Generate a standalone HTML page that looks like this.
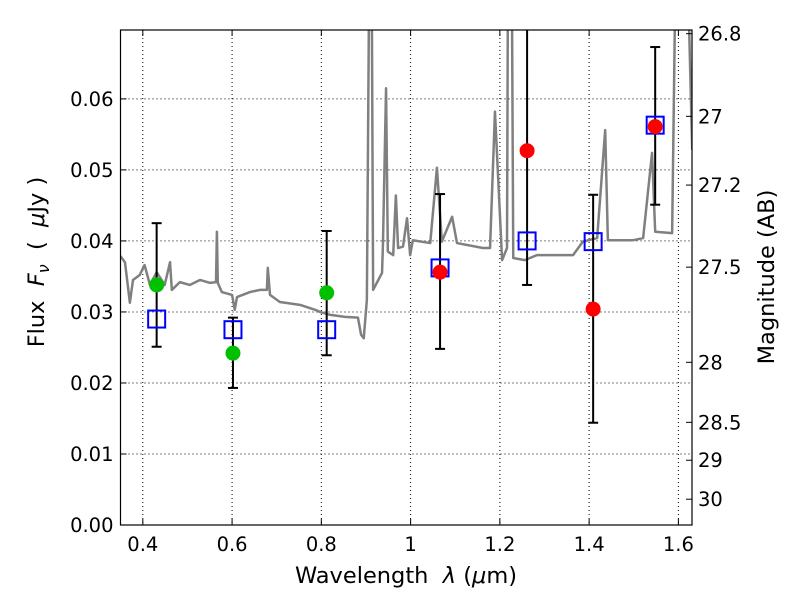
<!DOCTYPE html>
<html><head><meta charset="utf-8"><style>
html,body{margin:0;padding:0;background:#fff;}
svg text{font-family:"DejaVu Sans","Liberation Sans",sans-serif;fill:#000;}
</style></head><body>
<svg id="chart" width="800" height="600" viewBox="0 0 800 600" xmlns="http://www.w3.org/2000/svg"></svg>
<script>
const specLambda=[0.348,0.360,0.371,0.378,0.393,0.404,0.416,0.431,0.449,0.461,0.465,0.483,0.505,0.528,0.550,0.564,0.566,0.568,0.577,0.600,0.606,0.611,0.640,0.662,0.678,0.680,0.685,0.707,0.752,0.786,0.797,0.819,0.853,0.882,0.889,0.895,0.902,0.907,0.913,0.916,0.936,0.938,0.945,0.949,0.961,0.967,0.972,0.983,0.992,0.999,1.005,1.044,1.059,1.070,1.093,1.104,1.162,1.178,1.189,1.205,1.216,1.218,1.227,1.230,1.256,1.283,1.364,1.386,1.418,1.436,1.442,1.499,1.521,1.541,1.548,1.586,1.593,1.622,1.631];
const specFlux=[0.0380,0.0370,0.0313,0.0345,0.0352,0.0366,0.0338,0.0356,0.0338,0.0370,0.0331,0.0342,0.0338,0.0345,0.0341,0.0342,0.0413,0.0341,0.0328,0.0324,0.0303,0.0321,0.0328,0.0331,0.0331,0.0362,0.0324,0.0314,0.0310,0.0303,0.0300,0.0296,0.0293,0.0292,0.0268,0.0263,0.0317,0.075,0.075,0.0331,0.0355,0.0394,0.0615,0.0385,0.0380,0.0464,0.0390,0.0392,0.0432,0.0380,0.0401,0.0397,0.0503,0.0399,0.0434,0.0397,0.0390,0.0390,0.0582,0.0373,0.0390,0.075,0.075,0.0376,0.0373,0.0380,0.0380,0.0399,0.0404,0.0556,0.0401,0.0401,0.0404,0.0524,0.0413,0.0411,0.075,0.075,0.0528];
const bandLambda=[0.431,0.602,0.812,1.066,1.261,1.409,1.548];
const modelFlux=[0.0290,0.0275,0.0275,0.0362,0.0400,0.0399,0.0563];
const errHigh=[0.0425,0.0292,0.0414,0.0466,0.075,0.0465,0.0673];
const errLow=[0.0251,0.0193,0.0239,0.0248,0.0338,0.0144,0.0451];
const greenLambda=[0.431,0.602,0.812];
const greenFlux=[0.0338,0.0242,0.0327];
const redLambda=[1.066,1.261,1.409,1.548];
const redFlux=[0.0356,0.0527,0.0304,0.0561];
const xTicks=[0.4,0.6,0.8,1.0,1.2,1.4,1.6];
const xTickLabels=["0.4","0.6","0.8","1","1.2","1.4","1.6"];
const yTicks=[0,0.01,0.02,0.03,0.04,0.05,0.06];
const yTickLabels=["0.00","0.01","0.02","0.03","0.04","0.05","0.06"];
const magTicks=[26.8,27,27.2,27.5,28,28.5,29,30];
const magTickLabels=["26.8","27","27.2","27.5","28","28.5","29","30"];

const L=120.5,R=692,T=30,B=525;
const xmin=0.35,xmax=1.6305,ymin=0,ymax=0.0697;
const X=v=>L+(v-xmin)/(xmax-xmin)*(R-L);
const Y=v=>B-(v-ymin)/(ymax-ymin)*(B-T);
const magToFlux=m=>Math.pow(10,(23.9-m)/2.5);
const NS="http://www.w3.org/2000/svg";
const svg=document.getElementById('chart');
function mk(tag,attrs,parent){const e=document.createElementNS(NS,tag);for(const k in attrs)e.setAttribute(k,attrs[k]);(parent||svg).appendChild(e);return e;}

const defs=mk('defs',{});
const cp=mk('clipPath',{id:'clip'},defs);
mk('rect',{x:L,y:T,width:R-L,height:B-T},cp);

const grid=mk('g',{});


xTicks.forEach(t=>{const l=mk('line',{x1:X(t),x2:X(t),y1:T,y2:B,stroke:'#000','stroke-width':1,'stroke-dasharray':'1,3'},grid);

});
yTicks.forEach(t=>{const l=mk('line',{x1:L,x2:R,y1:Y(t),y2:Y(t),stroke:'#000','stroke-width':1,'stroke-dasharray':'1,3'},grid);

});

const plot=mk('g',{'clip-path':'url(#clip)'});
const sp=mk('polyline',{points:specLambda.map((l,i)=>X(l)+','+Y(specFlux[i])).join(' '),fill:'none',stroke:'#808080','stroke-width':2.5,'stroke-linejoin':'round'},plot);


bandLambda.forEach((l,i)=>{const g=mk('g',{},plot);


const x=X(l);mk('line',{x1:x,x2:x,y1:Y(errHigh[i]),y2:Y(errLow[i]),stroke:'#000','stroke-width':2},g);
mk('line',{x1:x-5,x2:x+5,y1:Y(errHigh[i]),y2:Y(errHigh[i]),stroke:'#000','stroke-width':2},g);
mk('line',{x1:x-5,x2:x+5,y1:Y(errLow[i]),y2:Y(errLow[i]),stroke:'#000','stroke-width':2},g);});
bandLambda.forEach((l,i)=>{const r=mk('rect',{x:X(l)-8.5,y:Y(modelFlux[i])-8.5,width:17,height:17,fill:'none',stroke:'#0000ff','stroke-width':2},plot);

});
greenLambda.forEach((l,i)=>{const c=mk('circle',{cx:X(l),cy:Y(greenFlux[i]),r:7.5,fill:'#00c000'},plot);

});
redLambda.forEach((l,i)=>{const c=mk('circle',{cx:X(l),cy:Y(redFlux[i]),r:7.5,fill:'#ff0000'},plot);

});

const fr=mk('rect',{x:L,y:T,width:R-L,height:B-T,fill:'none',stroke:'#000','stroke-width':1.2});



xTicks.forEach((t,i)=>{const x=X(t);
mk('line',{x1:x,x2:x,y1:B,y2:B-6,stroke:'#000'});mk('line',{x1:x,x2:x,y1:T,y2:T+6,stroke:'#000'});
const tx=mk('text',{x:x,y:B+26,'text-anchor':'middle','font-size':19.5});tx.textContent=xTickLabels[i];

});
yTicks.forEach((t,i)=>{const y=Y(t);
mk('line',{x1:L,x2:L+6,y1:y,y2:y,stroke:'#000'});
const tx=mk('text',{x:L-7,y:y+7,'text-anchor':'end','font-size':19.5});tx.textContent=yTickLabels[i];

});
magTicks.forEach((m,i)=>{const y=Y(magToFlux(m));
mk('line',{x1:R,x2:R-6,y1:y,y2:y,stroke:'#000'});
const tx=mk('text',{x:R+6,y:y+7,'text-anchor':'start','font-size':19.5});tx.textContent=magTickLabels[i];

});
</script>
<svg width="800" height="600" style="position:absolute;left:0;top:0">
<text x="406" y="583" text-anchor="middle" font-size="22.5" xml:space="preserve">Wavelength  <tspan font-style="italic">λ</tspan> (<tspan font-style="italic">μ</tspan>m)</text>
<text transform="translate(44,262) rotate(-90)" text-anchor="middle" font-size="22.5" xml:space="preserve">Flux  <tspan font-style="italic">F</tspan><tspan font-style="italic" font-size="16" dy="5">ν</tspan><tspan dy="-5">  (  </tspan><tspan font-style="italic">μ</tspan>Jy )</text>
<text transform="translate(774,277) rotate(-90)" text-anchor="middle" font-size="22.5">Magnitude (AB)</text>
</svg>
</body></html>
